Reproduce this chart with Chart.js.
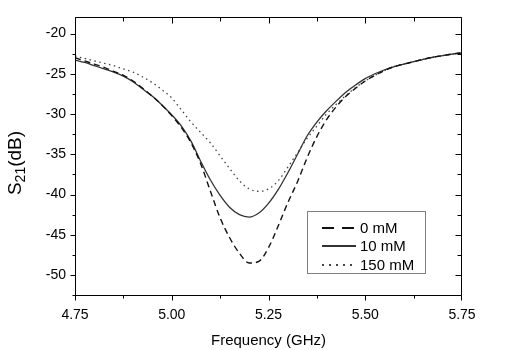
<!DOCTYPE html>
<html><head><meta charset="utf-8">
<script src="https://cdn.jsdelivr.net/npm/chart.js@4.4.0/dist/chart.umd.min.js"></script>
<style>html,body{margin:0;padding:0;background:#fff}#wrap{width:507px;height:350px;position:relative}</style>
</head><body><div id="wrap"><canvas id="c" width="507" height="350"></canvas></div>
<script>
// ---- data ----
const frequencies = [4.75,4.775,4.80,4.825,4.85,4.875,4.90,4.925,4.95,4.975,5.00,5.025,5.05,5.075,5.10,5.125,5.15,5.175,5.20,5.225,5.25,5.275,5.30,5.325,5.35,5.375,5.40,5.425,5.45,5.475,5.50,5.525,5.55,5.575,5.60,5.625,5.65,5.675,5.70,5.725,5.75];
const s21_0mM = [-23.0,-23.4,-23.8,-24.2,-24.7,-25.2,-25.9,-26.8,-27.8,-28.9,-30.2,-31.7,-33.6,-36.2,-39.6,-42.9,-45.4,-47.3,-48.5,-48.3,-46.6,-43.9,-41.0,-38.4,-35.4,-32.8,-30.7,-29.1,-27.8,-26.8,-25.9,-25.2,-24.6,-24.1,-23.8,-23.5,-23.2,-22.95,-22.75,-22.55,-22.4];
const s21_10mM = [-23.3,-23.6,-24.0,-24.4,-24.8,-25.3,-26.0,-26.9,-27.8,-28.9,-30.1,-31.5,-33.4,-35.9,-38.2,-40.1,-41.6,-42.5,-42.8,-42.3,-41.1,-39.4,-37.3,-35.0,-32.7,-31.0,-29.6,-28.4,-27.3,-26.4,-25.6,-25.0,-24.5,-24.1,-23.8,-23.5,-23.2,-22.95,-22.75,-22.55,-22.4];
const s21_150mM = [-22.8,-23.1,-23.4,-23.7,-24.0,-24.4,-24.8,-25.4,-26.1,-27.0,-28.0,-29.5,-31.0,-32.3,-33.6,-35.2,-36.8,-38.3,-39.3,-39.6,-39.3,-38.3,-36.6,-34.8,-33.0,-31.5,-30.0,-28.8,-27.7,-26.7,-25.9,-25.2,-24.6,-24.1,-23.8,-23.5,-23.2,-22.95,-22.75,-22.55,-22.4];
const seriesLabels = ['0 mM','10 mM','150 mM'];
const xTickValues = [4.75,5.00,5.25,5.50,5.75];
const yTickValues = [-20,-25,-30,-35,-40,-45,-50];
const xTitle = 'Frequency (GHz)';
const yTitleMain = 'S', yTitleSub = '21', yTitleUnit = '(dB)';

const FONT = '"Liberation Sans", Arial, sans-serif';
const toPts = arr => frequencies.map((f,i)=>({x:f,y:arr[i]}));

const styles = [
  {color:'#111', width:1.4, dash:[6,4], legendDash:[12,8]},
  {color:'#333', width:1.3, dash:[], legendDash:[]},
  {color:'#444', width:1.3, dash:[1.5,3.5], legendDash:[2,5]}
];
const seriesData = [s21_0mM, s21_10mM, s21_150mM];

const framePlugin = {
  id:'frame',
  afterDraw(chart){
    const {ctx, chartArea:a, scales:{x,y}} = chart;
    const L=Math.round(a.left)+0.5, R=Math.round(a.right)-0.5, T=Math.round(a.top)+0.5, B=Math.round(a.bottom)-0.5;
    const cx=v=>Math.min(R,Math.max(L,Math.round(x.getPixelForValue(v))+0.5));
    const cy=v=>Math.min(B,Math.max(T,Math.round(y.getPixelForValue(v))+0.5));
    ctx.save();
    ctx.strokeStyle='#000'; ctx.lineWidth=1;
    ctx.beginPath();
    ctx.rect(L, T, R-L, B-T);
    ctx.stroke();
    // x ticks: bottom outward, top inward (major + minor)
    for(let i=0;i<xTickValues.length;i++){
      const v=xTickValues[i];
      const px=cx(v);
      ctx.beginPath();
      ctx.moveTo(px,B); ctx.lineTo(px,B+5);
      ctx.moveTo(px,T); ctx.lineTo(px,T+6);
      ctx.stroke();
      if(i<xTickValues.length-1){
        const pm=cx((v+xTickValues[i+1])/2);
        ctx.beginPath();
        ctx.moveTo(pm,B); ctx.lineTo(pm,B+3);
        ctx.moveTo(pm,T); ctx.lineTo(pm,T+4);
        ctx.stroke();
      }
    }
    // y ticks: left outward, right inward
    yTickValues.forEach(v=>{
      const py=cy(v);
      ctx.beginPath();
      ctx.moveTo(L,py); ctx.lineTo(L-5,py);
      ctx.moveTo(R,py); ctx.lineTo(R-6,py);
      ctx.stroke();
    });
    const minorY=[];
    for(let i=0;i<yTickValues.length-1;i++) minorY.push((yTickValues[i]+yTickValues[i+1])/2);
    minorY.push(yTickValues[yTickValues.length-1]-2.5);
    minorY.forEach(v=>{
      if(v>y.max||v<y.min) return;
      const py=cy(v);
      ctx.beginPath();
      ctx.moveTo(L,py); ctx.lineTo(L-3,py);
      ctx.moveTo(R,py); ctx.lineTo(R-4,py);
      ctx.stroke();
    });
    // y title with subscript
    ctx.fillStyle='#000';
    ctx.translate(15,163);
    ctx.rotate(-Math.PI/2);
    ctx.textBaseline='alphabetic';
    const fMain='19px '+FONT, fSub='14px '+FONT;
    ctx.font=fMain; const w1=ctx.measureText(yTitleMain).width, w3=ctx.measureText(yTitleUnit).width;
    ctx.font=fSub; const w2=ctx.measureText(yTitleSub).width;
    let sx=-(w1+w2+w3)/2;
    ctx.font=fMain; ctx.fillText(yTitleMain,sx,6); sx+=w1;
    ctx.font=fSub; ctx.fillText(yTitleSub,sx,10); sx+=w2;
    ctx.font=fMain; ctx.fillText(yTitleUnit,sx,6);
    ctx.restore();

    // legend box
    ctx.save();
    const bx=307.5, by=211.5, bw=118, bh=62;
    ctx.fillStyle='#fff'; ctx.fillRect(bx,by,bw,bh);
    ctx.strokeStyle='#808080'; ctx.lineWidth=1; ctx.strokeRect(bx,by,bw,bh);
    const rows=[228,246,265];
    ctx.font='15px '+FONT; ctx.textBaseline='middle'; ctx.fillStyle='#000';
    seriesLabels.forEach((lab,i)=>{
      const s=styles[i];
      ctx.strokeStyle=s.color; ctx.lineWidth=1.8;
      ctx.setLineDash(s.legendDash);
      ctx.beginPath(); ctx.moveTo(322,rows[i]); ctx.lineTo(356,rows[i]); ctx.stroke();
      ctx.setLineDash([]);
      ctx.fillText(lab,360,rows[i]+1);
    });
    ctx.restore();
  }
};

new Chart(document.getElementById('c'),{
  type:'line',
  data:{
    datasets: seriesData.map((arr,i)=>({
      label:seriesLabels[i],
      data:toPts(arr),
      borderColor:styles[i].color,
      borderWidth:styles[i].width,
      borderDash:styles[i].dash,
      pointRadius:0,
      fill:false,
      cubicInterpolationMode:'monotone',
      tension:0.4
    }))
  },
  options:{
    responsive:false,
    animation:false,
    devicePixelRatio:1,
    layout:{padding:{left:0,top:14,right:45,bottom:0}},
    plugins:{legend:{display:false},tooltip:{enabled:false}},
    scales:{
      x:{
        type:'linear', min:4.75, max:5.75,
        afterFit(s){s.height=54;},
        afterBuildTicks(s){s.ticks=xTickValues.map(v=>({value:v}));},
        grid:{display:false, drawTicks:false},
        border:{display:false},
        ticks:{padding:11, color:'#000', font:{family:FONT,size:14}, callback:v=>Number(v).toFixed(2), maxRotation:0, autoSkip:false},
        title:{display:true, text:xTitle, color:'#000', font:{family:FONT,size:15}, padding:{top:0,bottom:0}}
      },
      y:{
        type:'linear', min:-52.6, max:-18,
        afterFit(s){s.width=75;},
        afterBuildTicks(s){s.ticks=yTickValues.map(v=>({value:v}));},
        grid:{display:false, drawTicks:false},
        border:{display:false},
        ticks:{padding:9, color:'#000', font:{family:FONT,size:14}, autoSkip:false},
        title:{display:false}
      }
    }
  },
  plugins:[framePlugin]
});
</script></body></html>
